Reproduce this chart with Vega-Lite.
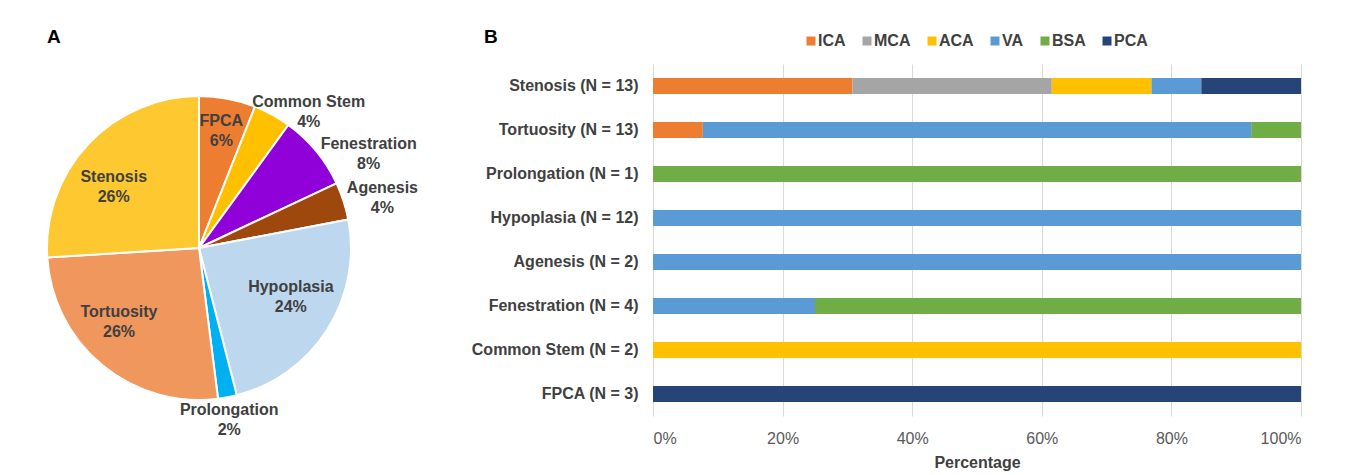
{
  "$schema": "https://vega.github.io/schema/vega-lite/v6.json",
  "padding": {"left": 43, "top": 28, "right": 5, "bottom": 5},
  "background": "white",
  "config": {"font": "Liberation Sans", "view": {"stroke": null}},
  "datasets": {
    "pie": [
      {"name": "FPCA", "count": 3},
      {"name": "Common Stem", "count": 2},
      {"name": "Fenestration", "count": 4},
      {"name": "Agenesis", "count": 2},
      {"name": "Hypoplasia", "count": 12},
      {"name": "Prolongation", "count": 1},
      {"name": "Tortuosity", "count": 13},
      {"name": "Stenosis", "count": 13}
    ],
    "bars": [
      {"cat": "Stenosis (N = 13)", "artery": "ICA", "n": 4},
      {"cat": "Stenosis (N = 13)", "artery": "MCA", "n": 4},
      {"cat": "Stenosis (N = 13)", "artery": "ACA", "n": 2},
      {"cat": "Stenosis (N = 13)", "artery": "VA", "n": 1},
      {"cat": "Stenosis (N = 13)", "artery": "PCA", "n": 2},
      {"cat": "Tortuosity (N = 13)", "artery": "ICA", "n": 1},
      {"cat": "Tortuosity (N = 13)", "artery": "VA", "n": 11},
      {"cat": "Tortuosity (N = 13)", "artery": "BSA", "n": 1},
      {"cat": "Prolongation (N = 1)", "artery": "BSA", "n": 1},
      {"cat": "Hypoplasia (N = 12)", "artery": "VA", "n": 12},
      {"cat": "Agenesis (N = 2)", "artery": "VA", "n": 2},
      {"cat": "Fenestration (N = 4)", "artery": "VA", "n": 1},
      {"cat": "Fenestration (N = 4)", "artery": "BSA", "n": 3},
      {"cat": "Common Stem (N = 2)", "artery": "ACA", "n": 2},
      {"cat": "FPCA (N = 3)", "artery": "PCA", "n": 3}
    ]
  },
  "spacing": 53,
  "resolve": {"scale": {"color": "independent"}, "legend": {"color": "independent"}},
  "hconcat": [
    {
      "width": 310,
      "height": 368,
      "data": {"name": "pie"},
      "transform": [
        {"window": [{"op": "row_number", "as": "idx"}]},
        {"joinaggregate": [{"op": "sum", "field": "count", "as": "total"}]},
        {"calculate": "datum.name + '|' + round(100 * datum.count / datum.total) + '%'", "as": "label"},
        {"stack": "count", "groupby": [], "sort": [{"field": "idx", "order": "ascending"}], "as": ["t0", "t1"]},
        {"calculate": "(datum.t0 + datum.t1) / 2", "as": "mid"}
      ],
      "title": {"text": "A", "anchor": "start", "frame": "group", "dx": 3, "fontSize": 19, "fontWeight": "bold", "color": "black", "offset": 17},
      "layer": [
        {
          "mark": {"type": "arc", "outerRadius": 152, "stroke": "white", "strokeWidth": 2},
          "encoding": {
            "theta": {"field": "t0", "type": "quantitative", "scale": {"domain": [0, 50]}},
            "theta2": {"field": "t1"},
            "color": {
              "field": "name", "type": "nominal", "legend": null,
              "scale": {
                "domain": ["FPCA", "Common Stem", "Fenestration", "Agenesis", "Hypoplasia", "Prolongation", "Tortuosity", "Stenosis"],
                "range": ["#ED7D31", "#FFC000", "#9000D8", "#9E480E", "#BDD7EE", "#00B0F0", "#F0975D", "#FDC830"]
              }
            }
          }
        },
        {
          "transform": [{"filter": "datum.name == 'FPCA'"}],
          "mark": {"type": "text", "radius": 119, "dy": -10, "fontSize": 16, "fontWeight": "bold", "color": "#404040", "lineBreak": "|", "lineHeight": 20},
          "encoding": {"theta": {"field": "mid", "type": "quantitative", "scale": {"domain": [0, 50]}}, "text": {"field": "label"}}
        },
        {
          "transform": [{"filter": "datum.name == 'Common Stem'"}],
          "mark": {"type": "text", "radius": 175, "thetaOffset": 0.175, "dy": -10, "fontSize": 16, "fontWeight": "bold", "color": "#404040", "lineBreak": "|", "lineHeight": 20},
          "encoding": {"theta": {"field": "mid", "type": "quantitative", "scale": {"domain": [0, 50]}}, "text": {"field": "label"}}
        },
        {
          "transform": [{"filter": "datum.name == 'Fenestration'"}],
          "mark": {"type": "text", "radius": 194, "thetaOffset": 0.185, "dy": -10, "fontSize": 16, "fontWeight": "bold", "color": "#404040", "lineBreak": "|", "lineHeight": 20},
          "encoding": {"theta": {"field": "mid", "type": "quantitative", "scale": {"domain": [0, 50]}}, "text": {"field": "label"}}
        },
        {
          "transform": [{"filter": "datum.name == 'Agenesis'"}],
          "mark": {"type": "text", "radius": 190, "thetaOffset": 0.05, "dy": -10, "fontSize": 16, "fontWeight": "bold", "color": "#404040", "lineBreak": "|", "lineHeight": 20},
          "encoding": {"theta": {"field": "mid", "type": "quantitative", "scale": {"domain": [0, 50]}}, "text": {"field": "label"}}
        },
        {
          "transform": [{"filter": "datum.name == 'Hypoplasia'"}],
          "mark": {"type": "text", "radius": 104, "thetaOffset": -0.077, "dy": -10, "fontSize": 16, "fontWeight": "bold", "color": "#404040", "lineBreak": "|", "lineHeight": 20},
          "encoding": {"theta": {"field": "mid", "type": "quantitative", "scale": {"domain": [0, 50]}}, "text": {"field": "label"}}
        },
        {
          "transform": [{"filter": "datum.name == 'Prolongation'"}],
          "mark": {"type": "text", "radius": 175, "thetaOffset": 0.015, "dy": -10, "fontSize": 16, "fontWeight": "bold", "color": "#404040", "lineBreak": "|", "lineHeight": 20},
          "encoding": {"theta": {"field": "mid", "type": "quantitative", "scale": {"domain": [0, 50]}}, "text": {"field": "label"}}
        },
        {
          "transform": [{"filter": "datum.name == 'Tortuosity'"}],
          "mark": {"type": "text", "radius": 109, "thetaOffset": 0.133, "dy": -10, "fontSize": 16, "fontWeight": "bold", "color": "#404040", "lineBreak": "|", "lineHeight": 20},
          "encoding": {"theta": {"field": "mid", "type": "quantitative", "scale": {"domain": [0, 50]}}, "text": {"field": "label"}}
        },
        {
          "transform": [{"filter": "datum.name == 'Stenosis'"}],
          "mark": {"type": "text", "radius": 105, "thetaOffset": -0.131, "dy": -10, "fontSize": 16, "fontWeight": "bold", "color": "#404040", "lineBreak": "|", "lineHeight": 20},
          "encoding": {"theta": {"field": "mid", "type": "quantitative", "scale": {"domain": [0, 50]}}, "text": {"field": "label"}}
        }
      ]
    },
    {
      "width": 648,
      "height": {"step": 44},
      "data": {"name": "bars"},
      "transform": [
        {"calculate": "indexof(['ICA','MCA','ACA','VA','BSA','PCA'], datum.artery)", "as": "ord"}
      ],
      "title": {"text": "B", "anchor": "start", "frame": "group", "dx": -169, "fontSize": 19, "fontWeight": "bold", "color": "black", "offset": -14},
      "mark": {"type": "bar", "size": 16},
      "encoding": {
        "y": {
          "field": "cat", "type": "nominal",
          "sort": ["Stenosis (N = 13)", "Tortuosity (N = 13)", "Prolongation (N = 1)", "Hypoplasia (N = 12)", "Agenesis (N = 2)", "Fenestration (N = 4)", "Common Stem (N = 2)", "FPCA (N = 3)"],
          "scale": {"paddingInner": 0, "paddingOuter": 0},
          "axis": {"title": null, "labelFontSize": 16, "labelFontWeight": "bold", "labelColor": "#404040", "labelPadding": 15, "domain": false, "ticks": false, "grid": false, "labelLimit": 300}
        },
        "x": {
          "field": "n", "type": "quantitative", "stack": "normalize",
          "axis": {"title": "Percentage", "format": "%", "values": [0, 0.2, 0.4, 0.6, 0.8, 1], "labelFontSize": 16, "labelColor": "#595959", "labelPadding": 14, "titleFontSize": 16, "titleFontWeight": "bold", "titleColor": "#404040", "titlePadding": 8, "domain": false, "ticks": false, "grid": true, "gridColor": "#D9D9D9"}
        },
        "color": {
          "field": "artery", "type": "nominal",
          "scale": {"domain": ["ICA", "MCA", "ACA", "VA", "BSA", "PCA"], "range": ["#ED7D31", "#A5A5A5", "#FFC000", "#5B9BD5", "#70AD47", "#264478"]},
          "legend": {"orient": "none", "legendX": 150, "legendY": -31, "direction": "horizontal", "title": null, "symbolType": "square", "symbolSize": 81, "symbolStrokeWidth": 0, "labelFontSize": 16, "labelFontWeight": "bold", "labelColor": "#404040", "columnPadding": 13, "labelOffset": -1, "padding": 0}
        },
        "order": {"field": "ord", "type": "quantitative"}
      }
    }
  ]
}
